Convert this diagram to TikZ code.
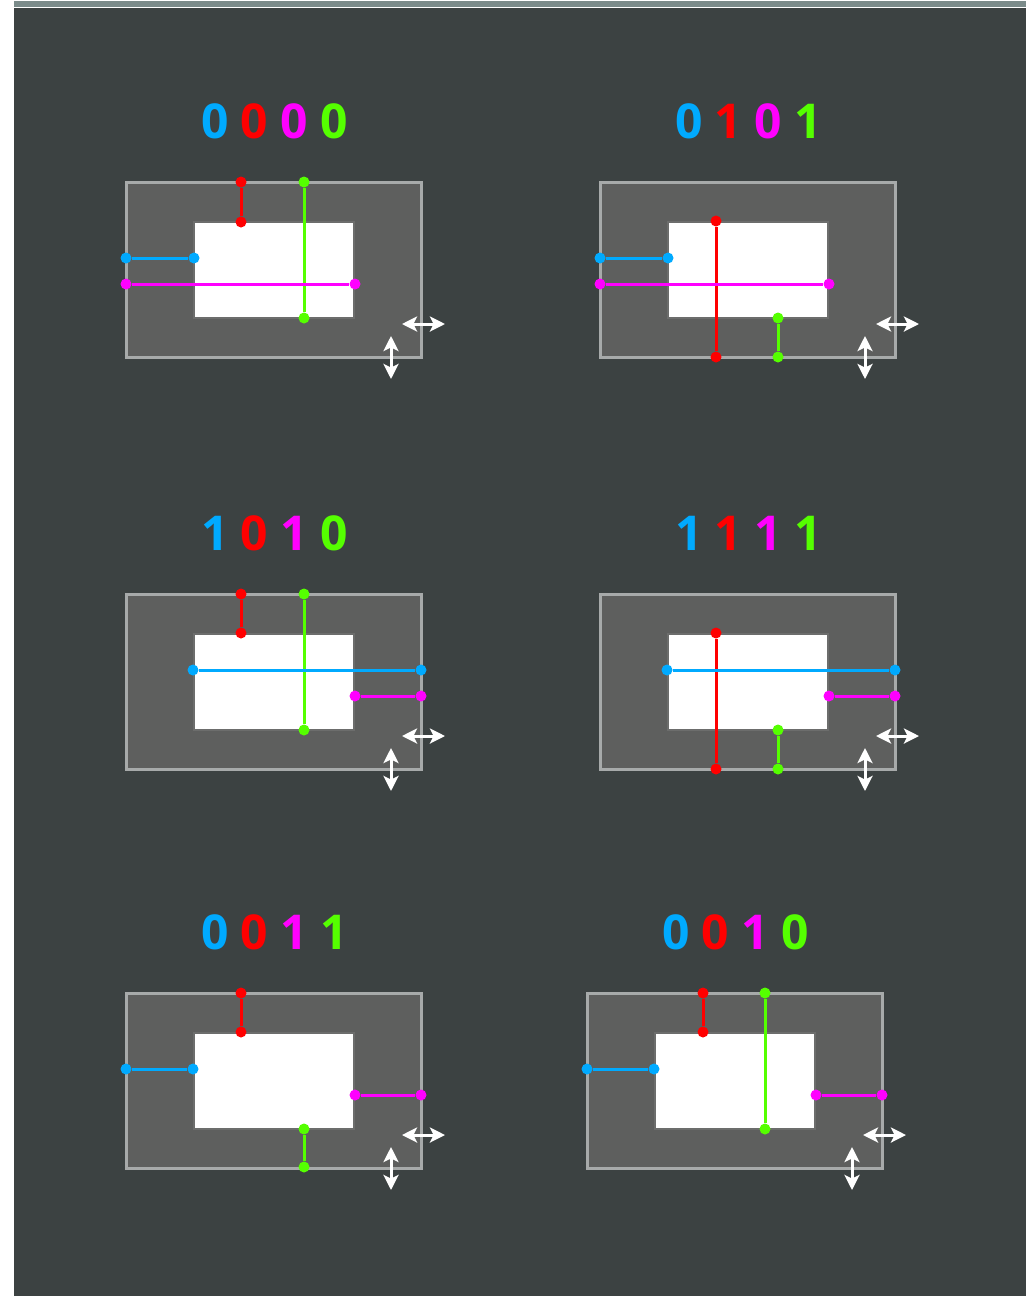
\documentclass[tikz,border=0pt]{standalone}
\usepackage{fontspec}
\newfontfamily\digitfont{Open Sans}
\usetikzlibrary{arrows.meta}

\definecolor{bgdark}{HTML}{3C4242}
\definecolor{stripgray}{HTML}{7B8B8A}
\definecolor{boardfill}{HTML}{5E5F5E}
\definecolor{boardedge}{HTML}{A7AAAA}
\definecolor{holeedge}{HTML}{6C6D6C}
\definecolor{bitcyan}{HTML}{00AAFF}
\definecolor{bitred}{HTML}{FF0000}
\definecolor{bitmag}{HTML}{FF00FF}
\definecolor{bitgreen}{HTML}{55FF00}

% one board: outline, hole, resize arrows and the 4-bit label
\newcommand{\board}[2]{%
  \node[outerbox] (#1o) at (147.5,87.5) {};
  \node[innerbox] (#1i) at (148,88) {};
  \coordinate (#1hl) at (276,142);
  \coordinate (#1hr) at (319,142);
  \coordinate (#1vt) at (265,154);
  \coordinate (#1vb) at (265,197);
  \draw[<->,resize] (#1hl) -- (#1hr);
  \draw[<->,resize] (#1vt) -- (#1vb);
  \node[bits] (#1t) at (148.5,-61) {#2};
}
\newcommand{\bitrow}[4]{\textcolor{bitcyan}{#1} \textcolor{bitred}{#2} \textcolor{bitmag}{#3} \textcolor{bitgreen}{#4}}
% a coloured measure between two pins
\newcommand{\wire}[4]{%
  \node[pin,fill=#2] (#1a) at #3 {};
  \node[pin,fill=#2] (#1b) at #4 {};
  \draw[wire,#2] (#1a) -- (#1b);
}

\begin{document}
\begin{tikzpicture}[x=1pt,y=-1pt,
    >={Stealth[length=15pt,width=15pt,inset=3.5pt]},
    outerbox/.style={draw=boardedge,fill=boardfill,line width=3pt,
                     minimum width=295pt,minimum height=175pt,inner sep=0pt},
    innerbox/.style={draw=holeedge,fill=white,line width=2.5pt,
                     minimum width=160pt,minimum height=96pt,inner sep=0pt},
    resize/.style={draw=white,fill=white,line width=3pt},
    bits/.style={inner sep=0pt,font=\digitfont\bfseries\fontsize{48}{48}\selectfont},
    pin/.style={circle,inner sep=0pt,minimum size=11pt},
    wire/.style={line width=3pt}]

\useasboundingbox (0,0) rectangle (1036,1296);
\fill[white] (0,0) rectangle (1036,1296);
\fill[bgdark] (14,8) rectangle (1026,1296);
\fill[stripgray] (14,1) rectangle (1026,7);

% 0000
\begin{scope}[shift={(126,182)}]
    \board{A}{\bitrow{0}{0}{0}{0}}
    \wire{Ar}{bitred}{(115,0)}{(115,40)}
    \wire{Ag}{bitgreen}{(178,0)}{(178,136)}
    \wire{Ac}{bitcyan}{(0,76)}{(68,76)}
    \wire{Am}{bitmag}{(0,102)}{(229,102)}
\end{scope}

% 0101
\begin{scope}[shift={(600,182)}]
    \board{B}{\bitrow{0}{1}{0}{1}}
    \wire{Br}{bitred}{(116,39)}{(116,175)}
    \wire{Bg}{bitgreen}{(178,136)}{(178,175)}
    \wire{Bc}{bitcyan}{(0,76)}{(68,76)}
    \wire{Bm}{bitmag}{(0,102)}{(229,102)}
\end{scope}

% 1010
\begin{scope}[shift={(126,594)}]
    \board{C}{\bitrow{1}{0}{1}{0}}
    \wire{Cr}{bitred}{(115,0)}{(115,39)}
    \wire{Cg}{bitgreen}{(178,0)}{(178,136)}
    \wire{Cc}{bitcyan}{(67,76)}{(295,76)}
    \wire{Cm}{bitmag}{(229,102)}{(295,102)}
\end{scope}

% 1111
\begin{scope}[shift={(600,594)}]
    \board{D}{\bitrow{1}{1}{1}{1}}
    \wire{Dr}{bitred}{(116,39)}{(116,175)}
    \wire{Dg}{bitgreen}{(178,136)}{(178,175)}
    \wire{Dc}{bitcyan}{(67,76)}{(295,76)}
    \wire{Dm}{bitmag}{(229,102)}{(295,102)}
\end{scope}

% 0011
\begin{scope}[shift={(126,993)}]
    \board{E}{\bitrow{0}{0}{1}{1}}
    \wire{Er}{bitred}{(115,0)}{(115,39)}
    \wire{Eg}{bitgreen}{(178,136)}{(178,174)}
    \wire{Ec}{bitcyan}{(0,76)}{(67,76)}
    \wire{Em}{bitmag}{(229,102)}{(295,102)}
\end{scope}

% 0010
\begin{scope}[shift={(587,993)}]
    \board{F}{\bitrow{0}{0}{1}{0}}
    \wire{Fr}{bitred}{(116,0)}{(116,39)}
    \wire{Fg}{bitgreen}{(178,0)}{(178,136)}
    \wire{Fc}{bitcyan}{(0,76)}{(67,76)}
    \wire{Fm}{bitmag}{(229,102)}{(295,102)}
\end{scope}
\end{tikzpicture}
\end{document}
